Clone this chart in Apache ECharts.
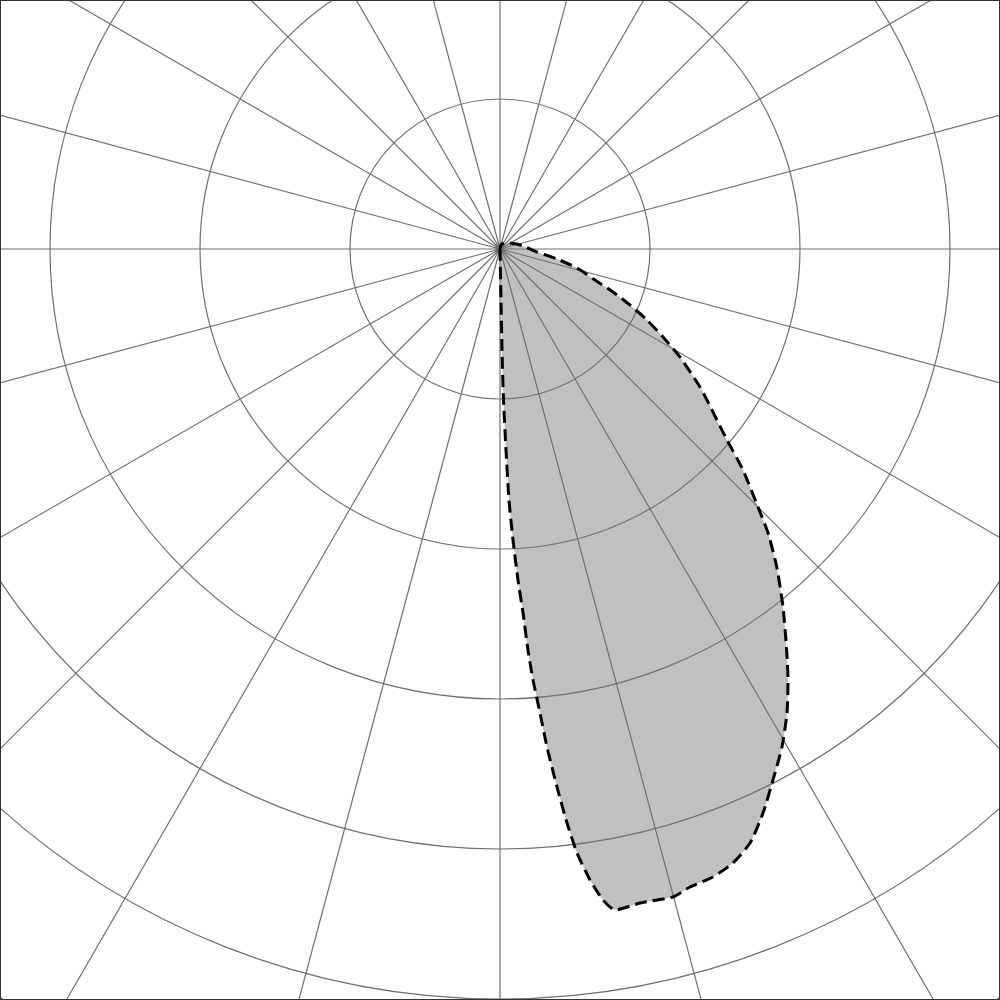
<!DOCTYPE html>
<html>
<head>
<meta charset="utf-8">
<script src="https://cdn.jsdelivr.net/npm/echarts@6/dist/echarts.min.js"></script>
<style>
html, body { margin: 0; padding: 0; background: #ffffff; }
#wrap { position: relative; width: 1000px; height: 1000px; }
#chart { position: absolute; left: 0; top: 0; width: 1000px; height: 1000px; }
#frame { position: absolute; left: 0; top: 0; width: 1000px; height: 1000px; box-sizing: border-box; border: 1px solid #333333; pointer-events: none; }
</style>
</head>
<body>
<div id="wrap"><div id="chart"></div><div id="frame"></div></div>
<script>
// Lobe boundary, in order: radius values (grid step = 100) and angles (degrees from straight down, counter-clockwise)
var lobeRadius = [0, 34, 67.4, 100.7, 134, 167.5, 194.2, 221, 243.1, 268, 288.2, 310.5, 333.5, 360.7, 385.3, 405.9, 424.9, 439.4, 447.3,
  445.9, 447.1, 443.8, 442.1, 437.8, 429.7, 414.9, 398, 381.5, 363.7, 345.6, 328.6, 304.2, 280.9, 260.3, 243.2, 219, 197.8, 170.8, 162, 139.9, 123.5, 108.8, 94.4, 80.6, 66.6, 52.9, 38.6, 24.7, 15.5, 8.7, 3.5, 0];
var lobeAngle = [0, 1.1, 1.13, 1.33, 1.71, 2.05, 2.56, 3.11, 3.62, 3.99, 4.38, 4.93, 5.39, 6.05, 6.66, 7.27, 8.12, 8.99, 9.87,
  12.08, 14.95, 16.58, 18.74, 20.78, 22.82, 25.0, 27.21, 29.52, 31.74, 33.75, 35.56, 38.33, 41.05, 43.35, 45, 47.71, 49.92, 53.89, 55.4, 59.04, 61.63, 64.22, 66.7, 69.16, 71.93, 76.14, 80.05, 85.36, 97.4, 116, 161, 180];

var radiusMax = 800;
var radiusStep = 100;
var angleStep = 15;

var lobeData = lobeRadius.map(function (r, i) { return [r, lobeAngle[i]]; });

var chart = echarts.init(document.getElementById('chart'), null, { renderer: 'canvas' });
chart.setOption({
  animation: false,
  backgroundColor: '#ffffff',
  polar: { center: [500, 249], radius: 1200 },
  angleAxis: {
    type: 'value', min: 0, max: 360, interval: angleStep,
    startAngle: 270, clockwise: false, z: 2,
    axisLine: { show: false }, axisTick: { show: false }, axisLabel: { show: false },
    splitLine: { show: true, lineStyle: { color: '#707070', width: 1.2 } }
  },
  radiusAxis: {
    type: 'value', min: 0, max: radiusMax, interval: radiusStep, z: 2,
    axisLine: { show: false }, axisTick: { show: false }, axisLabel: { show: false },
    splitLine: { show: true, lineStyle: { color: '#707070', width: 1.2 } }
  },
  series: [
    {
      type: 'line', coordinateSystem: 'polar', data: lobeData, z: 1,
      showSymbol: false, silent: true, smooth: 0.2,
      lineStyle: { width: 0, opacity: 0 },
      areaStyle: { color: '#c0c0c0', opacity: 1 }
    },
    {
      type: 'line', coordinateSystem: 'polar', data: lobeData, z: 3,
      showSymbol: false, silent: true, smooth: 0.2,
      lineStyle: { color: '#000000', width: 3, type: [12, 6] }
    }
  ]
});
</script>
</body>
</html>
